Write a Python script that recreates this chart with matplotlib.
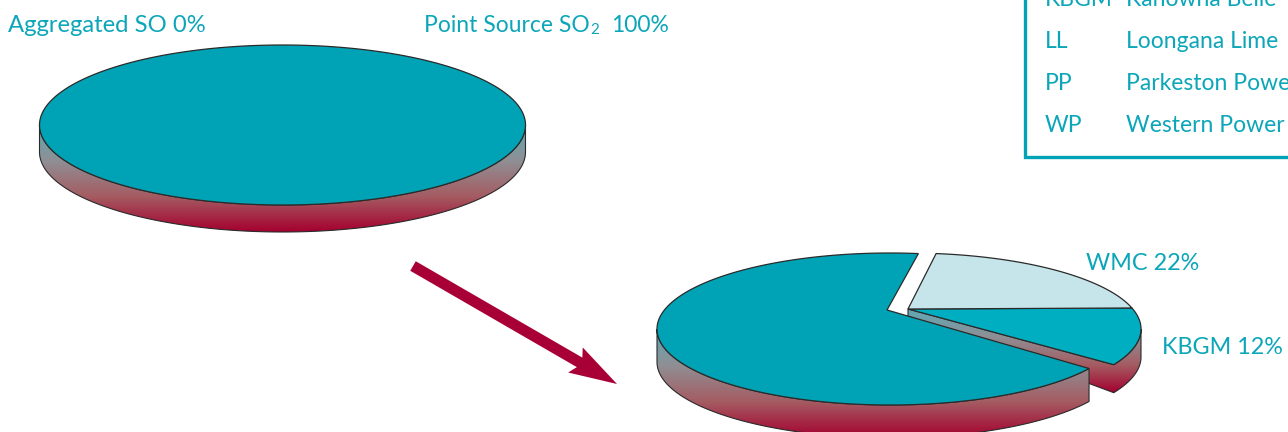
import matplotlib
matplotlib.use("Agg")
import matplotlib.pyplot as plt
import numpy as np
from matplotlib.colors import LinearSegmentedColormap
from matplotlib.patches import FancyArrow, Polygon

# shares in percent
top_labels = ["Aggregated SO 0%", "Point Source SO", "100%"]
top_shares = [0, 100]
lower_labels = ["WMC 22%", "KBGM 12%"]
main_share = 66
kbgm_share = 12
wmc_share = 22

key_codes = ["KBGM", "LL", "PP", "WP"]
key_names = ["Kanowna Belle", "Loongana Lime", "Parkeston Power", "Western Power"]

TEAL = "#00a3b5"
TEXT = "#0ca6b9"
EDGE = "#2a2a2a"
CRIMSON = "#a80036"
FONT = "Lato"

side_cmap = LinearSegmentedColormap.from_list(
    "side", ["#5fa9b6", "#8f8f94", "#a45c62", "#a5002f"]
)

fig = plt.figure(figsize=(12.88, 4.32), dpi=100)
ax = fig.add_axes([0, 0, 1, 1])


def arc(cx, cy, rx, ry, t0, t1, n=200):
    t = np.radians(np.linspace(t0, t1, n))
    return np.column_stack([cx + rx * np.cos(t), cy - ry * np.sin(t)])


def gradient_fill(pts, y0, y1, z=2):
    patch = Polygon(pts, closed=True, facecolor="none", edgecolor=EDGE, lw=0.8, zorder=z + 1)
    grad = np.linspace(0, 1, 256).reshape(-1, 1)
    im = ax.imshow(grad, cmap=side_cmap, aspect="auto", zorder=z,
                   extent=[pts[:, 0].min(), pts[:, 0].max(), y1, y0])
    ax.add_patch(patch)
    im.set_clip_path(patch)


def top_face(pts, color, z=4):
    ax.add_patch(Polygon(pts, closed=True, facecolor=color, edgecolor=EDGE, lw=0.9, zorder=z))


# upper pie, one whole disc
cx, cy, rx, ry, depth = 282.5, 125, 243, 80, 27
rim = arc(cx, cy, rx, ry, 180, 360)
gradient_fill(np.vstack([rim, (rim + [0, depth])[::-1]]), cy, cy + ry + depth)
top_face(arc(cx, cy, rx, ry, 0, top_shares[1] * 3.6), TEAL)

# lower pie, the slices are not quite drawn to scale in the original
ex_cx, ex_cy, ex_rx, ex_ry, ex_vx, ex_vy = 908, 329, 233, 76, 908, 309
low_depth = 33
kbgm_start = -28
kbgm_end = kbgm_start + kbgm_share * 3.6 * 1.02
wmc_end = kbgm_end + wmc_share * 3.6 * 0.846

# KBGM rim and cut face
rim = arc(ex_cx, ex_cy, ex_rx, ex_ry, kbgm_start, 0, 60)
side = np.vstack([[[ex_vx, ex_vy]], rim, [rim[-1] + [0, low_depth - 5]],
                  (rim + [0, low_depth - 5])[::-1], [[ex_vx, ex_vy + 7]]])
gradient_fill(side, ex_vy, rim[0, 1] + low_depth - 5)
vertex = np.array([[ex_vx, ex_vy]])
top_face(np.vstack([vertex, arc(ex_cx, ex_cy, ex_rx, ex_ry, kbgm_start, kbgm_end, 80)]), "#00aec2")
top_face(np.vstack([vertex, arc(ex_cx, ex_cy, ex_rx, ex_ry, kbgm_end, wmc_end, 80)]), "#c6e5ea")

# main slice
m_cx, m_cy, m_rx, m_ry, m_vx, m_vy = 890, 329, 233, 76, 887, 310
main_start = 83
main_end = main_start + main_share * 3.6 * 1.034
rim = arc(m_cx, m_cy, m_rx, m_ry, 180, main_end)
gradient_fill(np.vstack([rim, (rim + [0, low_depth])[::-1]]), m_cy, m_cy + m_ry + low_depth, z=5)
main = np.vstack([[[m_vx, m_vy]], arc(m_cx, m_cy, m_rx, m_ry, main_start, main_end)])
top_face(main, TEAL, z=7)

# arrow between the pies
ax.add_patch(FancyArrow(413, 266, 204, 118, width=11, head_width=29, head_length=48,
                        length_includes_head=True, overhang=0.1,
                        facecolor=CRIMSON, edgecolor="none", zorder=3))

ax.set_xlim(0, 1288)
ax.set_ylim(432, 0)
ax.axis("off")

# labels
ax.text(8, 26, top_labels[0], color=TEXT, fontsize=17.2, family=FONT, va="center")
t = ax.text(424, 26, top_labels[1], color=TEXT, fontsize=16.5, family=FONT, va="center")
fig.canvas.draw()
x_end = t.get_window_extent().x1
ax.text(x_end + 1, 30, "2", color=TEXT, fontsize=11, family=FONT, va="center")
ax.text(611, 26, top_labels[2], color=TEXT, fontsize=16.5, family=FONT, va="center")
ax.text(1086, 263, lower_labels[0], color=TEXT, fontsize=16.8, family=FONT, va="center")
ax.text(1162, 347, lower_labels[1], color=TEXT, fontsize=16.8, family=FONT, va="center")

# clipped key box
ax.plot([1025.5, 1025.5, 1288], [0, 156.5, 156.5], color=TEAL, lw=2.4,
        solid_joinstyle="miter", zorder=3)
for i, (code, name) in enumerate(zip(key_codes, key_names)):
    y = 0 + 42 * i
    ax.text(1045, y, code, color=TEXT, fontsize=16.5, family=FONT, va="center")
    ax.text(1126, y, name, color=TEXT, fontsize=16.5, family=FONT, va="center")

fig.savefig("out.png", dpi=100)
plt.close(fig)
